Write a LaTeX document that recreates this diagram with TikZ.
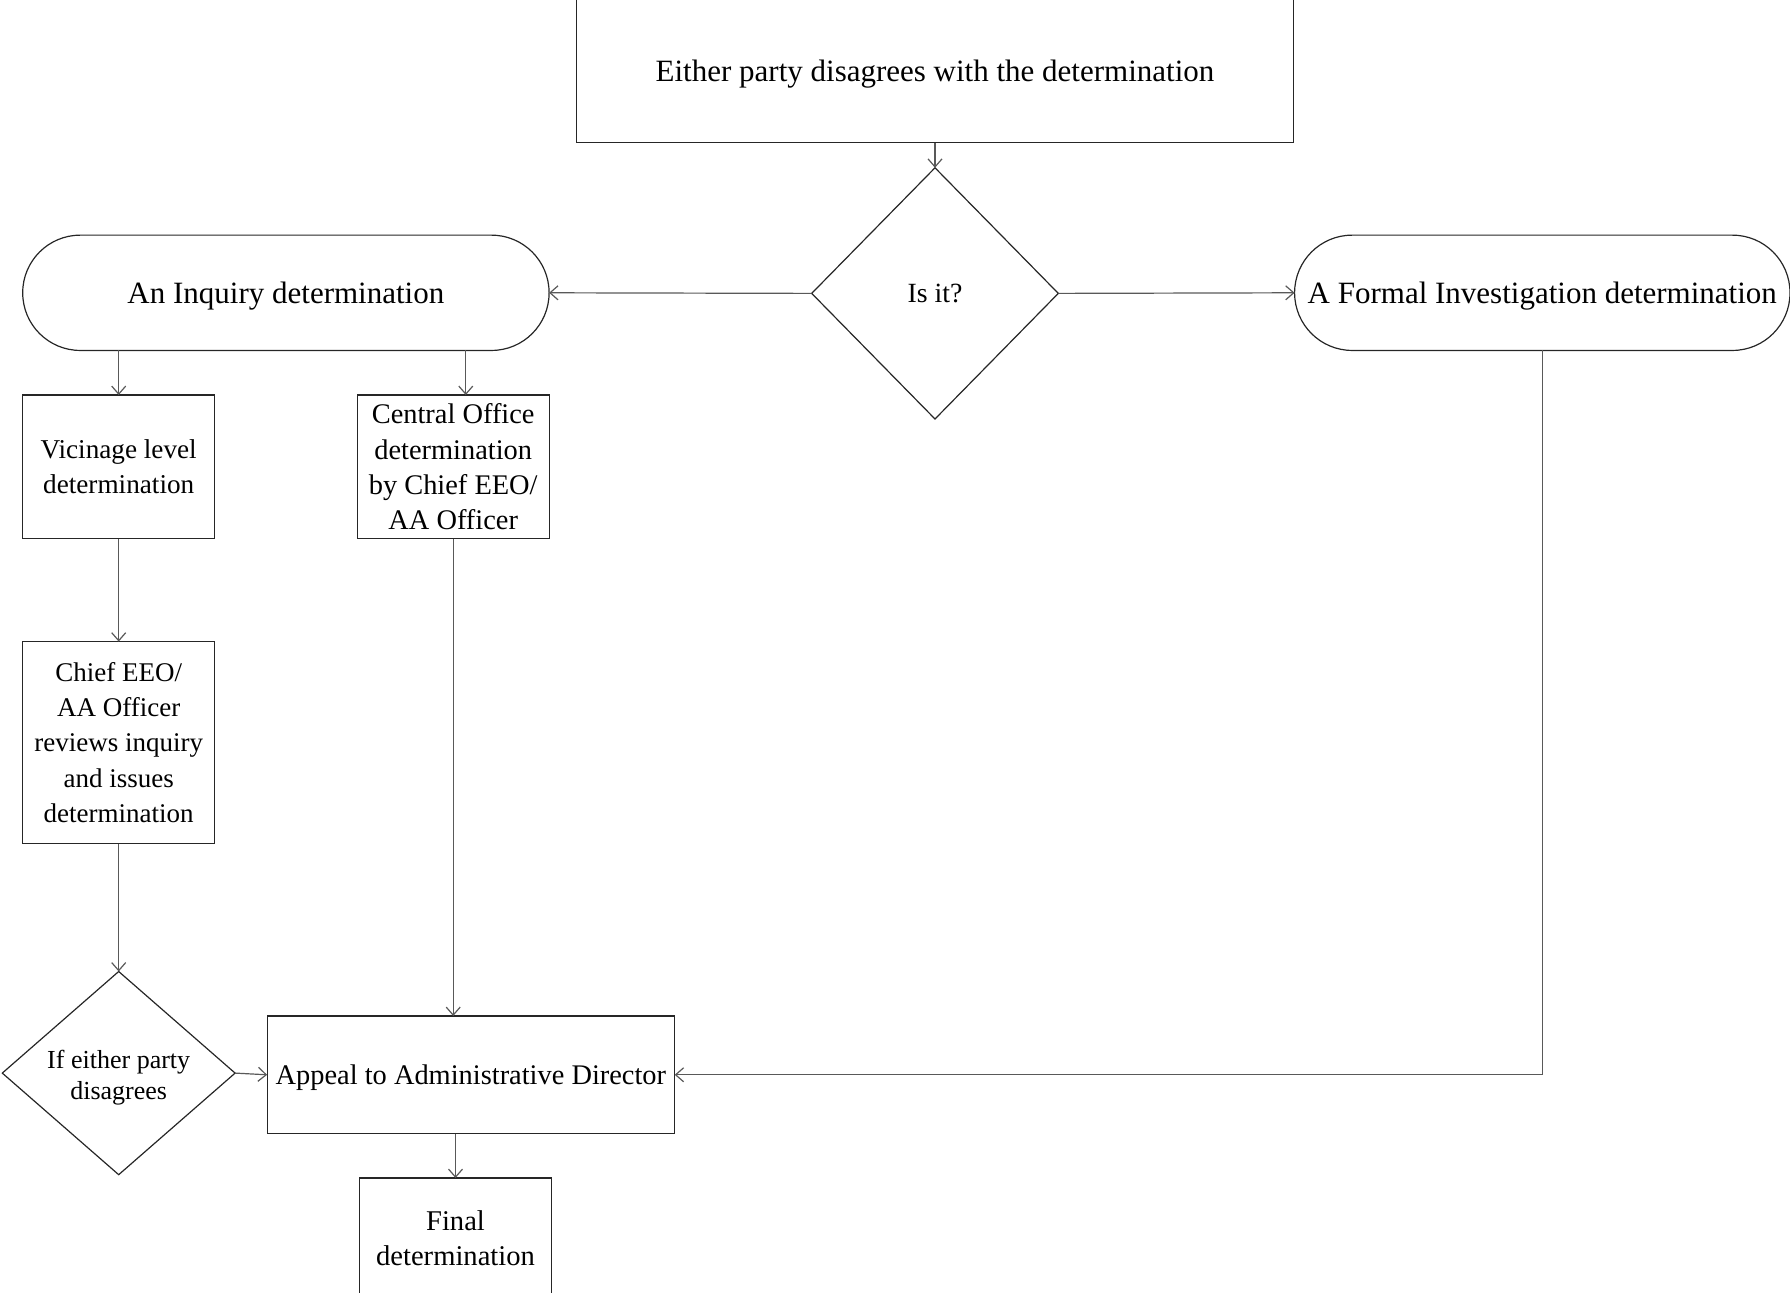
\documentclass[tikz,border=0pt]{standalone}
\usepackage{fontspec}
\setmainfont{Liberation Serif}
\usetikzlibrary{shapes.geometric,arrows.meta}
\newcommand{\fsz}[1]{\fontsize{#1}{17.7}\selectfont}
\tikzset{
  px/.style={x=0.5pt,y=-0.5pt},
  box/.style={draw=black!85,line width=0.6pt,rectangle,inner sep=0pt,outer sep=0pt,align=center,
     font=\fsz{14.2}},
  oneline/.style={text depth=0pt},
  pill/.style={box,rounded corners=28.8pt,oneline,font=\fsz{15.5}},
  decision/.style={draw=black!85,line width=0.6pt,diamond,inner sep=0pt,outer sep=0pt,align=center,
     font=\fontsize{13}{15.4}\selectfont},
  conn/.style={draw=black!65,line width=0.6pt,-{Straight Barb[length=4pt,width=7pt]}},
}
\begin{document}
\begin{tikzpicture}[px]
\useasboundingbox (0,0) rectangle (1790,1293);
\node[box,oneline,minimum width=358.5pt,minimum height=72.4pt,font=\fsz{15.5}] (top) at (935,70.4) {Either party disagrees with the determination};
\node[decision,oneline,minimum width=123.3pt,minimum height=125.6pt,font=\fsz{13.9}] (isit) at (935,293.4) {Is it?};
\node[pill,minimum width=263.2pt,minimum height=57.65pt] (inq) at (285.9,292.8) {An Inquiry determination};
\node[pill,minimum width=247.7pt,minimum height=57.65pt] (formal) at (1542.3,292.8) {A Formal Investigation determination};
\node[box,minimum width=95.9pt,minimum height=71.9pt,font=\fsz{13.6}] (vic) at (118.7,466.9) {Vicinage level\\determination};
\node[box,minimum width=95.9pt,minimum height=71.9pt] (central) at (453.2,466.9) {Central Office\\determination\\by Chief EEO/\\AA Officer};
\node[box,minimum width=95.9pt,minimum height=101pt,font=\fsz{13.5}] (chief) at (118.7,742.6) {Chief EEO/\\AA Officer\\reviews inquiry\\and issues\\determination};
\node[decision,minimum width=116.4pt,minimum height=101.6pt,
  label={[align=center,font=\fontsize{13}{15.4}\selectfont,yshift=-2.3pt]center:If either party\\disagrees}] (either) at (118.7,1073.1) {};
\node[box,oneline,minimum width=203.8pt,minimum height=58.8pt] (appeal) at (470.9,1074.8) {Appeal to Administrative Director};
\node[box,minimum width=95.9pt,minimum height=60pt,font=\fsz{14.3}] (final) at (455.5,1238) {Final\\determination};

\draw[conn] (top.south) -- (isit.north);
\draw[conn] (isit.west) -- (inq.east);
\draw[conn] (isit.east) -- (formal.west);
\draw[conn] (vic.north |- inq.south) -- (vic.north);
\draw[conn] ([xshift=6.3pt]central.north |- inq.south) -- ([xshift=6.3pt]central.north);
\draw[conn] (vic.south) -- (chief.north);
\draw[conn] (chief.south) -- (either.north);
\draw[conn] (either.east) -- (appeal.west);
\draw[conn] (central.south) -- (central.south |- appeal.north);
\draw[conn] (formal.south) |- (appeal.east);
\draw[conn] (final.north |- appeal.south) -- (final.north);
\end{tikzpicture}
\end{document}
